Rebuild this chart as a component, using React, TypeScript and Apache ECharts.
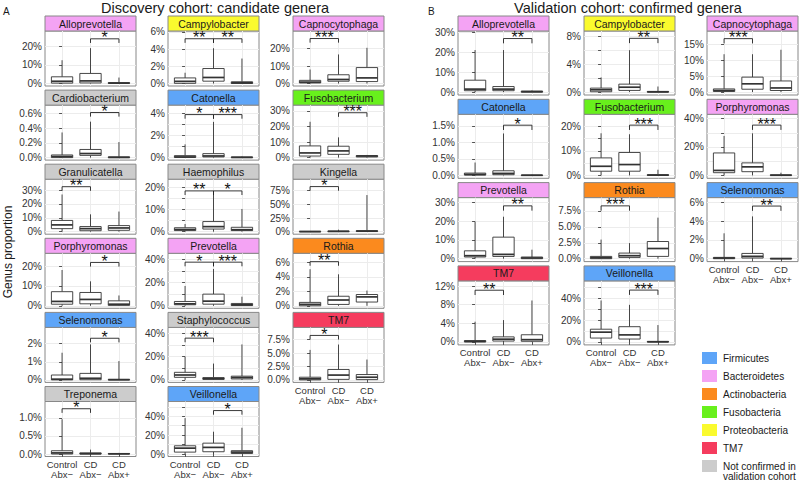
import React, { useEffect, useRef } from "react";
import * as echarts from "echarts";

const FONT = "Liberation Sans, Arial, Helvetica, sans-serif";

const groups = ["Control\nAbx\u2212", "CD\nAbx\u2212", "CD\nAbx+"];
const groupIndex = [0, 1, 2];

// ---- shared tick sets (in %) ----
const t0_10_20 = [0, 10, 20];
const t0_10_20_30 = [0, 10, 20, 30];
const t0_2_4_6 = [0, 2, 4, 6];
const t0_to_40by10 = [0, 10, 20, 30, 40];
const t0_to_50by10 = [0, 10, 20, 30, 40, 50];
const l0_20_40 = [0, 20, 40];
const t0_to_20by5 = [0, 5, 10, 15, 20];
const t0_25_to_75 = [0, 2.5, 5, 7.5];

// ---- Discovery cohort: box stats [min, q1, median, q3, max] (%) for Control Abx−, CD Abx−, CD Abx+ ----
const aAlloprevotella = [[0, 0.2, 1.2, 3.6, 12.5], [0, 0.3, 1.4, 5.4, 19], [0, 0.05, 0.2, 0.5, 3.2]];
const aAlloprevotellaSig = [[1, 2, 24, "*"]];
const aCampylobacter = [[0, 0.02, 0.25, 0.65, 1.25], [0, 0.27, 0.7, 1.74, 4.1], [0, 0, 0.08, 0.2, 2.9]];
const aCampylobacterSig = [[0, 1, 5.2, "**"], [1, 2, 5.2, "**"]];
const aCapnocytophaga = [[0, 0.3, 0.8, 1.8, 8], [0, 1.3, 2.3, 5, 16.6], [0, 1.1, 3.2, 9.1, 20.4]];
const aCapnocytophagaSig = [[0, 1, 25.7, "***"]];
const aCardiobacterium = [[0, 0, 0.015, 0.036, 0.34], [0, 0.03, 0.055, 0.11, 0.486], [0, 0, 0.003, 0.01, 0.21]];
const aCardiobacteriumSig = [[1, 2, 0.61, "*"]];
const aCatonella = [[0, 0.02, 0.06, 0.18, 1.2], [0, 0.06, 0.15, 0.36, 3.24], [0, 0, 0.02, 0.06, 0.1]];
const aCatonellaSig = [[0, 1, 3.9, "*"], [1, 2, 3.9, "***"]];
const aFusobacterium = [[0, 1, 3, 7.5, 23], [0, 2.1, 4.3, 7.3, 13], [0, 0.4, 1, 1.3, 1.7]];
const aFusobacteriumSig = [[1, 2, 28.8, "***"]];
const aGranulicatella = [[0, 2.2, 4.9, 8.1, 26.8], [0, 0.7, 2.2, 3.7, 12.5], [0, 1, 2.7, 4.4, 14.5]];
const aGranulicatellaSig = [[0, 1, 32.4, "**"]];
const aHaemophilus = [[0, 0.5, 1.0, 1.8, 3.5], [0, 1.2, 2.3, 4.6, 16.9], [0, 0.5, 0.9, 2, 10.3]];
const aHaemophilusSig = [[0, 1, 18.5, "**"], [1, 2, 18.5, "*"]];
const aKingella = [[0, 0.1, 0.3, 0.6, 1], [0, 0.2, 0.6, 1.2, 3.7], [0, 0.3, 1, 2, 67]];
const aKingellaSig = [[0, 1, 82.5, "*"]];
const aPorphyromonas = [[0, 0.8, 2.2, 7.1, 18], [0, 1, 3.2, 6.7, 12.3], [0, 0.2, 0.8, 2.5, 5.2]];
const aPorphyromonasSig = [[1, 2, 21.8, "*"]];
const aPrevotella = [[0, 0.9, 1.7, 3.7, 17], [0, 1.4, 4, 10, 31.6], [0, 0.2, 0.8, 2, 7.8]];
const aPrevotellaSig = [[0, 1, 37.4, "*"], [1, 2, 37.4, "***"]];
const aRothia = [[0, 0, 0.2, 0.47, 5.05], [0, 0.19, 0.8, 1.32, 4.35], [0, 0.52, 1.23, 1.56, 2.1]];
const aRothiaSig = [[0, 1, 6.1, "**"]];
const aSelenomonas = [[0, 0, 0.04, 0.27, 1.5], [0, 0.01, 0.09, 0.36, 1.96], [0, 0, 0.01, 0.03, 1.04]];
const aSelenomonasSig = [[1, 2, 2.3, "*"]];
const aStaphylococcus = [[0, 2.2, 4.2, 6.5, 20], [0, 0.5, 1, 2, 14], [0, 0.8, 2, 3.2, 30.4]];
const aStaphylococcusSig = [[0, 1, 35.8, "***"]];
const aTM7 = [[0, 0, 0.2, 0.5, 5.6], [0, 0.1, 0.9, 1.95, 6.6], [0, 0.05, 0.5, 1, 3.8]];
const aTM7Sig = [[0, 1, 8.3, "*"]];
const aTreponema = [[0, 0, 0.03, 0.09, 0.96], [0, 0, 0.01, 0.03, 0.12], [0, 0, 0.005, 0.015, 0.03]];
const aTreponemaSig = [[0, 1, 1.25, "*"]];
const aVeillonella = [[0, 2, 6.2, 8.7, 38], [0, 2.4, 7, 11.5, 23.6], [0, 0.5, 2, 3.5, 27.8]];
const aVeillonellaSig = [[1, 2, 46, "*"]];

// ---- Validation cohort ----
const bAlloprevotella = [[0, 0.7, 1.5, 6, 21.2], [0, 0.7, 1.5, 2.8, 21.2], [0, 0, 0.2, 0.5, 0.8]];
const bAlloprevotellaSig = [[1, 2, 27, "**"]];
const bCampylobacter = [[0, 0.05, 0.33, 0.57, 2.1], [0, 0.24, 0.7, 1.14, 6], [0, 0, 0.03, 0.1, 0.8]];
const bCampylobacterSig = [[1, 2, 7.7, "**"]];
const bCapnocytophaga = [[0, 0.2, 0.5, 1, 11.9], [0, 0.9, 2.6, 4.7, 11.9], [0, 0.5, 1.3, 3.5, 13.3]];
const bCapnocytophagaSig = [[0, 1, 16.8, "***"]];
const bCatonella = [[0, 0.01, 0.03, 0.07, 0.39], [0, 0.02, 0.06, 0.14, 1.27], [0, 0, 0.005, 0.01, 0.02]];
const bCatonellaSig = [[1, 2, 1.52, "*"]];
const bFusobacterium = [[0, 1.7, 3.7, 7.1, 17.1], [0, 1.7, 4.4, 9.3, 16.7], [0, 0, 0.1, 0.3, 2.3]];
const bFusobacteriumSig = [[1, 2, 20.4, "***"]];
const bPorphyromonas = [[0, 1.9, 3.5, 15.8, 27.8], [0, 2.6, 6, 8.8, 29.6], [0, 0, 0.1, 0.4, 1.9]];
const bPorphyromonasSig = [[1, 2, 35.4, "***"]];
const bPrevotella = [[0, 0.9, 1.6, 4.2, 19.8], [0, 1.2, 2.3, 11.5, 22.4], [0, 0, 0.4, 0.9, 4.8]];
const bPrevotellaSig = [[1, 2, 28.2, "**"]];
const bRothia = [[0, 0, 0.15, 0.36, 3], [0, 0.2, 0.47, 0.88, 2.45], [0, 0.36, 1.6, 2.7, 6.45]];
const bRothiaSig = [[0, 1, 8.3, "***"]];
const bSelenomonas = [[0, 0, 0.07, 0.14, 2.7], [0, 0.07, 0.25, 0.56, 4.5], [0, 0, 0.01, 0.03, 0.05]];
const bSelenomonasSig = [[1, 2, 5.6, "**"]];
const bTM7 = [[0, 0, 0.15, 0.3, 4.35], [0, 0.2, 0.6, 1.1, 4.7], [0, 0.15, 0.5, 1.55, 8.9]];
const bTM7Sig = [[0, 1, 11.1, "**"]];
const bVeillonella = [[0, 3.6, 9, 11.7, 38], [0, 2.7, 6.5, 14, 34], [0, 0, 0.2, 0.5, 15.5]];
const bVeillonellaSig = [[1, 2, 47.5, "***"]];

const phylumNames = [
  "Firmicutes",
  "Bacteroidetes",
  "Actinobacteria",
  "Fusobacteria",
  "Proteobacteria",
  "TM7",
  "Not confirmed in\nvalidation cohort",
];
const phylumColors = ["#5ea5f8", "#f4a3f4", "#fb8a1e", "#68f01c", "#fafa2e", "#f53c5e", "#cccccc"];
const NC = 6;

type Panel = { name: string; ph: number; boxes: number[][]; sig: any[][]; ticks: number[]; labels: number[]; top: number };

const panelsA: Panel[] = [
  { name: "Alloprevotella", ph: 1, boxes: aAlloprevotella, sig: aAlloprevotellaSig, ticks: t0_10_20, labels: t0_10_20, top: 28.2 },
  { name: "Campylobacter", ph: 4, boxes: aCampylobacter, sig: aCampylobacterSig, ticks: t0_2_4_6, labels: t0_2_4_6, top: 6.1 },
  { name: "Capnocytophaga", ph: 1, boxes: aCapnocytophaga, sig: aCapnocytophagaSig, ticks: t0_10_20, labels: t0_10_20, top: 30 },
  { name: "Cardiobacterium", ph: NC, boxes: aCardiobacterium, sig: aCardiobacteriumSig, ticks: [0, 0.2, 0.4, 0.6], labels: [0, 0.2, 0.4, 0.6], top: 0.71 },
  { name: "Catonella", ph: 0, boxes: aCatonella, sig: aCatonellaSig, ticks: [0, 1, 2, 3, 4], labels: [0, 2, 4], top: 4.76 },
  { name: "Fusobacterium", ph: 3, boxes: aFusobacterium, sig: aFusobacteriumSig, ticks: t0_10_20_30, labels: t0_10_20_30, top: 33.7 },
  { name: "Granulicatella", ph: NC, boxes: aGranulicatella, sig: aGranulicatellaSig, ticks: t0_10_20_30, labels: t0_10_20_30, top: 37.8 },
  { name: "Haemophilus", ph: NC, boxes: aHaemophilus, sig: aHaemophilusSig, ticks: t0_to_20by5, labels: t0_10_20, top: 23.8 },
  { name: "Kingella", ph: NC, boxes: aKingella, sig: aKingellaSig, ticks: [0, 25, 50, 75], labels: [0, 25, 50, 75], top: 96 },
  { name: "Porphyromonas", ph: 1, boxes: aPorphyromonas, sig: aPorphyromonasSig, ticks: t0_10_20, labels: t0_10_20, top: 26.4 },
  { name: "Prevotella", ph: 1, boxes: aPrevotella, sig: aPrevotellaSig, ticks: t0_to_40by10, labels: l0_20_40, top: 45 },
  { name: "Rothia", ph: 2, boxes: aRothia, sig: aRothiaSig, ticks: t0_2_4_6, labels: t0_2_4_6, top: 7.25 },
  { name: "Selenomonas", ph: 0, boxes: aSelenomonas, sig: aSelenomonasSig, ticks: [0, 1, 2], labels: [0, 1, 2], top: 2.9 },
  { name: "Staphylococcus", ph: NC, boxes: aStaphylococcus, sig: aStaphylococcusSig, ticks: t0_to_40by10, labels: l0_20_40, top: 45 },
  { name: "TM7", ph: 5, boxes: aTM7, sig: aTM7Sig, ticks: t0_25_to_75, labels: t0_25_to_75, top: 9.8 },
  { name: "Treponema", ph: NC, boxes: aTreponema, sig: aTreponemaSig, ticks: [0, 0.5, 1], labels: [0, 0.5, 1], top: 1.45 },
  { name: "Veillonella", ph: 0, boxes: aVeillonella, sig: aVeillonellaSig, ticks: t0_to_50by10, labels: l0_20_40, top: 55.6 },
];

const panelsB: Panel[] = [
  { name: "Alloprevotella", ph: 1, boxes: bAlloprevotella, sig: bAlloprevotellaSig, ticks: t0_10_20_30, labels: t0_10_20_30, top: 30.8 },
  { name: "Campylobacter", ph: 4, boxes: bCampylobacter, sig: bCampylobacterSig, ticks: [0, 2, 4, 6, 8], labels: [0, 4, 8], top: 8.75 },
  { name: "Capnocytophaga", ph: 1, boxes: bCapnocytophaga, sig: bCapnocytophagaSig, ticks: [0, 5, 10, 15], labels: [0, 5, 10, 15], top: 19.2 },
  { name: "Catonella", ph: 0, boxes: bCatonella, sig: bCatonellaSig, ticks: [0, 0.5, 1, 1.5], labels: [0, 0.5, 1, 1.5], top: 1.85 },
  { name: "Fusobacterium", ph: 3, boxes: bFusobacterium, sig: bFusobacteriumSig, ticks: t0_to_20by5, labels: t0_10_20, top: 24.8 },
  { name: "Porphyromonas", ph: 1, boxes: bPorphyromonas, sig: bPorphyromonasSig, ticks: t0_to_40by10, labels: l0_20_40, top: 43 },
  { name: "Prevotella", ph: 1, boxes: bPrevotella, sig: bPrevotellaSig, ticks: t0_10_20_30, labels: t0_10_20_30, top: 32.6 },
  { name: "Rothia", ph: 2, boxes: bRothia, sig: bRothiaSig, ticks: t0_25_to_75, labels: t0_25_to_75, top: 9.6 },
  { name: "Selenomonas", ph: 0, boxes: bSelenomonas, sig: bSelenomonasSig, ticks: [0, 2, 4, 6], labels: [0, 2, 4, 6], top: 6.5 },
  { name: "TM7", ph: 5, boxes: bTM7, sig: bTM7Sig, ticks: [0, 4, 8, 12], labels: [0, 4, 8, 12], top: 13.1 },
  { name: "Veillonella", ph: 0, boxes: bVeillonella, sig: bVeillonellaSig, ticks: t0_to_50by10, labels: l0_20_40, top: 55.9 },
];

function txt(x: number, y: number, text: string, size: number, align = "center", vAlign = "middle", extra: any = {}) {
  return {
    type: "text",
    x,
    y,
    silent: true,
    ...extra,
    style: {
      text,
      fontSize: size,
      fontFamily: FONT,
      fill: "#1a1a1a",
      align,
      verticalAlign: vAlign,
      textAlign: align,
      textVerticalAlign: vAlign,
      lineHeight: size * 1.05,
    },
  };
}

function buildOption() {
  const grids: any[] = [];
  const xAxes: any[] = [];
  const yAxes: any[] = [];
  const series: any[] = [];
  const graphics: any[] = [];

  const addPanel = (p: Panel, left: number, top: number, width: number, height: number, showX: boolean) => {
    const k = grids.length;
    grids.push({
      left, top, width, height, show: true, backgroundColor: "#ffffff",
      borderColor: "#888888", borderWidth: 1, containLabel: false,
    });
    xAxes.push({
      type: "value", gridIndex: k, min: -0.6, max: 2.6,
      axisLine: { show: false },
      axisTick: { show: showX, length: 3, customValues: groupIndex, lineStyle: { color: "#555" } },
      axisLabel: {
        show: showX, customValues: groupIndex, formatter: (v: number) => groups[Math.round(v)] ?? "",
        fontSize: 9.5, lineHeight: 10, color: "#333", margin: 3, fontFamily: FONT,
      },
      splitLine: { show: true, lineStyle: { color: "#ececec", width: 1 } },
    });
    const dec = p.labels.some((v) => Math.abs(v % 1) > 1e-9) ? 1 : 0;
    yAxes.push({
      type: "value", gridIndex: k, min: -p.top * 0.0476, max: p.top,
      axisLine: { show: false },
      axisTick: { show: true, length: 3, customValues: p.ticks, lineStyle: { color: "#555" } },
      axisLabel: {
        customValues: p.labels, formatter: (v: number) => v.toFixed(dec) + "%",
        fontSize: 10, color: "#333", margin: 3, fontFamily: FONT,
      },
      splitLine: { show: true, lineStyle: { color: "#ececec", width: 1 } },
    });
    series.push({
      type: "custom", xAxisIndex: k, yAxisIndex: k, z: 3,
      data: p.boxes.map((b, i) => [i, ...b]),
      encode: { x: 0, y: [1, 2, 3, 4, 5] },
      renderItem: (params: any, api: any) => {
        const idx = api.value(0);
        const lo = api.coord([idx, api.value(1)]);
        const q1 = api.coord([idx, api.value(2)]);
        const md = api.coord([idx, api.value(3)]);
        const q3 = api.coord([idx, api.value(4)]);
        const hi = api.coord([idx, api.value(5)]);
        const bw = api.size([1, 0])[0] * 0.75;
        const x = md[0];
        const stroke = "#333333";
        return {
          type: "group",
          children: [
            { type: "line", shape: { x1: x, y1: hi[1], x2: x, y2: q3[1] }, style: { stroke, lineWidth: 0.9 } },
            { type: "line", shape: { x1: x, y1: q1[1], x2: x, y2: lo[1] }, style: { stroke, lineWidth: 0.9 } },
            { type: "rect", shape: { x: x - bw / 2, y: q3[1], width: bw, height: Math.max(q1[1] - q3[1], 0.5) }, style: { fill: "#ffffff", stroke, lineWidth: 0.9 } },
            { type: "line", shape: { x1: x - bw / 2, y1: md[1], x2: x + bw / 2, y2: md[1] }, style: { stroke, lineWidth: 1.7 } },
          ],
        };
      },
    });
    series.push({
      type: "custom", xAxisIndex: k, yAxisIndex: k, z: 4,
      data: p.sig.map((s) => [s[0], s[1], s[2]]),
      encode: { x: [0, 1], y: 2 },
      renderItem: (params: any, api: any) => {
        const a = api.coord([api.value(0), api.value(2)]);
        const b = api.coord([api.value(1), api.value(2)]);
        const tip = params.coordSys.height * 0.075;
        const label = p.sig[params.dataIndex][3];
        return {
          type: "group",
          children: [
            {
              type: "polyline",
              shape: { points: [[a[0], a[1] + tip], [a[0], a[1]], [b[0], b[1]], [b[0], b[1] + tip]] },
              style: { stroke: "#222", lineWidth: 0.9, fill: "none" },
            },
            {
              type: "text",
              x: (a[0] + b[0]) / 2,
              y: a[1] - 1,
              style: {
                text: label, fontSize: 16, fontFamily: FONT, fill: "#111",
                align: "center", verticalAlign: "middle", textAlign: "center", textVerticalAlign: "middle",
              },
            },
          ],
        };
      },
    });
    // facet strip
    graphics.push({
      type: "rect", silent: true,
      shape: { x: left, y: top - 15, width, height: 15 },
      style: { fill: phylumColors[p.ph], stroke: "#888888", lineWidth: 1 },
    });
    graphics.push(txt(left + width / 2, top - 7.5, p.name, 10.5));
  };

  // Panel A layout
  const colA = [45, 168, 293];
  panelsA.forEach((p, i) => {
    const r = Math.floor(i / 3), c = i % 3;
    const stripTop = 16 + r * 74.1;
    addPanel(p, colA[c], stripTop + 15, 91, 55, i + 3 >= panelsA.length);
  });
  // Panel B layout
  const colB = [458, 584, 707];
  panelsB.forEach((p, i) => {
    const r = Math.floor(i / 3), c = i % 3;
    const stripTop = 16 + r * 83.3;
    addPanel(p, colB[c], stripTop + 15, 91, 64, i + 3 >= panelsB.length);
  });

  // Titles
  graphics.push(txt(3, 11, "A", 10, "left"));
  graphics.push(txt(215, 8, "Discovery cohort: candidate genera", 14.5));
  graphics.push(txt(428, 11, "B", 10, "left"));
  graphics.push(txt(628, 8, "Validation cohort: confirmed genera", 14.5));
  graphics.push(txt(8, 252, "Genus proportion", 12, "center", "middle", { rotation: Math.PI / 2 }));

  // Legend
  phylumNames.forEach((name, i) => {
    const y = 352 + i * 18;
    graphics.push({
      type: "rect", silent: true,
      shape: { x: 702, y, width: 15, height: 12 },
      style: { fill: phylumColors[i] },
    });
    if (i === NC) {
      graphics.push(txt(723, y + 1, name, 10, "left", "top"));
    } else {
      graphics.push(txt(723, y + 6, name, 10, "left", "middle"));
    }
  });

  return {
    animation: false,
    backgroundColor: "#ffffff",
    grid: grids,
    xAxis: xAxes,
    yAxis: yAxes,
    series,
    graphic: graphics,
  };
}

export default function App() {
  const ref = useRef<HTMLDivElement>(null);
  useEffect(() => {
    document.body.style.margin = "0";
    const chart = echarts.init(ref.current as HTMLDivElement, null, { renderer: "svg" });
    chart.setOption(buildOption() as any);
    return () => chart.dispose();
  }, []);
  return <div ref={ref} style={{ width: 800, height: 482 }} />;
}
